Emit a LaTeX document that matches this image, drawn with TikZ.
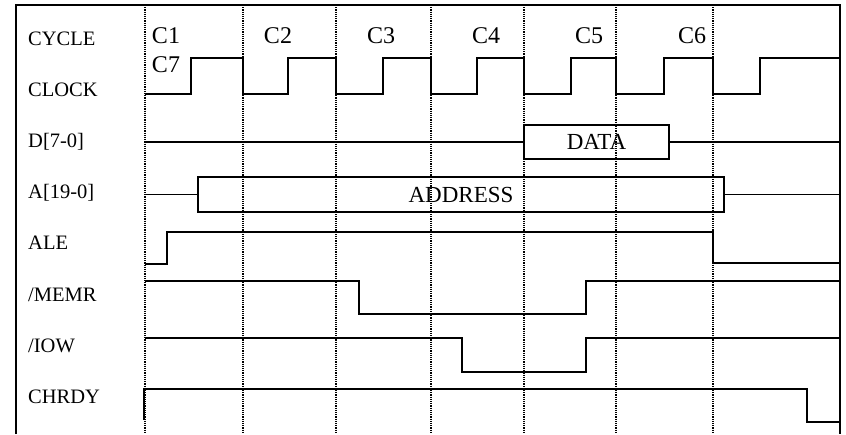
\documentclass[tikz,border=0pt]{standalone}
\usepackage{fontspec}
\setmainfont{Liberation Serif}
\tikzset{
  sig/.style={line width=1.5pt},
  gridline/.style={densely dotted, line width=1.2pt},
  lbl/.style={anchor=base west, inner sep=0pt, font=\fontsize{20.5}{24}\selectfont},
  cyc/.style={anchor=base, inner sep=0pt, font=\fontsize{24}{28}\selectfont},
  bus/.style={draw, line width=1.5pt, inner sep=0pt, font=\fontsize{23}{27}\selectfont}
}
\begin{document}
\begin{tikzpicture}[x=1pt,y=-1pt]
  \useasboundingbox (0,0) rectangle (846,434);
  \foreach \x in {145,243,336,431,524,616,713}
    \draw[gridline] (\x,5) -- (\x,434);
  \draw[sig] (16,434) |- (840,5) -- (840,434);
  \foreach \t [count=\i from 0] in {CYCLE,CLOCK,{D[7-0]},{A[19-0]},ALE,/MEMR,/IOW,CHRDY}
    \node[lbl] (sig\i) at (28,{45+51.2*\i}) {\t};
  \foreach \t/\x in {C1/166,C2/278,C3/381,C4/486,C5/589,C6/692}
    \node[cyc] (\t) at (\x,43) {\t};
  \node[cyc] (C7) at (166,72.5) {C7};
  % clock
  \draw[sig] (145,94) -| (191,58) -| (243,94) -| (288,58) -| (336,94) -| (383,58)
    -| (431,94) -| (477,58) -| (524,94) -| (571,58) -| (616,94) -| (664,58)
    -| (713,94) -| (760,58) -- (840,58);
  % buses
  \node[bus, minimum width=145pt, minimum height=34pt] (data) at (596.5,142) {DATA};
  \node[bus, minimum width=526pt, minimum height=35pt] (addr) at (461,194.5) {ADDRESS};
  \coordinate (d0) at (145,142);
  \coordinate (d1) at (840,142);
  \coordinate (a0) at (145,194.5);
  \coordinate (a1) at (840,194.5);
  \draw[sig] (d0) -- (data.west) (data.east) -- (d1);
  \draw[sig] (a0) -- (addr.west) (addr.east) -- (a1);
  % control lines
  \draw[sig] (145,264) -| (167,232) -| (713,263) -- (840,263);
  \draw[sig] (145,281) -| (359,314) -| (586,281) -- (840,281);
  \draw[sig] (145,338) -| (462,372) -| (586,338) -- (840,338);
  \draw[sig] (144,420) |- (807,389) |- (840,422);
\end{tikzpicture}
\end{document}
